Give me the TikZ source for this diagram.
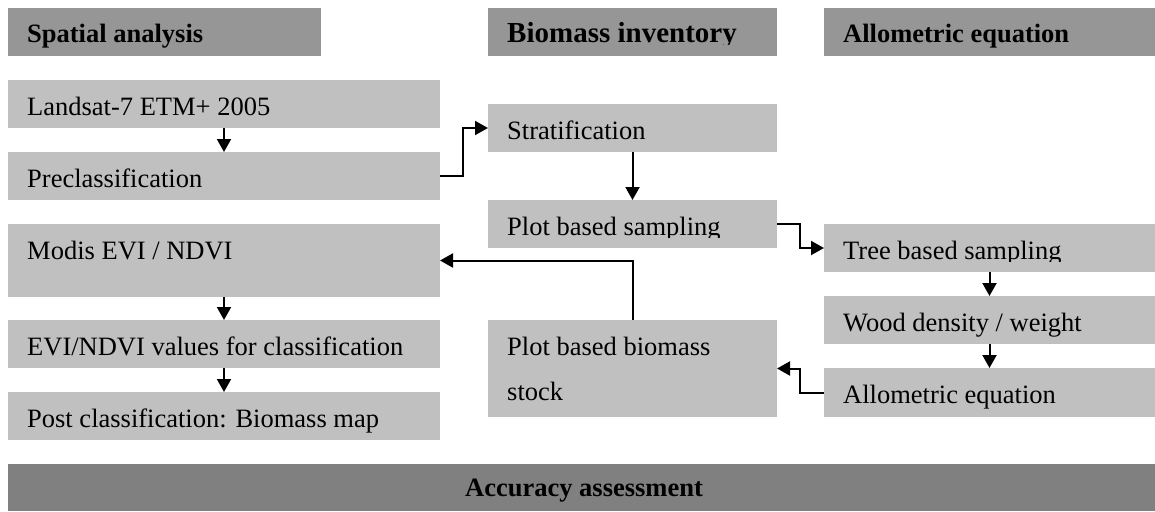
\documentclass[tikz,border=0pt]{standalone}
\usepackage{fontspec}
\setmainfont{Liberation Serif}
\usetikzlibrary{arrows.meta}
\definecolor{hdr}{HTML}{969696}
\definecolor{lgt}{HTML}{C0C0C0}
\definecolor{acc}{HTML}{808080}
\tikzset{
  x=1pt, y=-1pt,
  box/.style={fill=lgt, draw=none, anchor=north west, inner sep=0pt, outer sep=0pt},
  hbox/.style={fill=hdr, draw=none, anchor=north west, inner sep=0pt, outer sep=0pt},
  txt/.style={anchor=base west, inner sep=0pt, font=\fontsize{26.5}{32}\selectfont},
  htxt/.style={anchor=base west, inner sep=0pt, font=\fontsize{26.5}{32}\selectfont\bfseries},
  arr/.style={line width=2pt, -{Triangle[length=13pt,width=14pt]}},
}
\begin{document}
\begin{tikzpicture}
\useasboundingbox (0,0) rectangle (1155,511);
% headers
\node[hbox, minimum width=313pt, minimum height=48pt] (hsp) at (8,8) {};
\node[hbox, minimum width=289pt, minimum height=48pt] (hbi) at (488,8) {};
\node[hbox, minimum width=331pt, minimum height=48pt] (hal) at (824,8) {};
\node[htxt] (thsp) at (27,43) {Spatial analysis};
\begin{scope}
\clip (488,8) rectangle (777,45);
\node[htxt, font=\fontsize{29}{34}\selectfont\bfseries] (thbi) at (507,43) {Biomass inventory};
\end{scope}
\node[htxt] (thal) at (843,43) {Allometric equation};
% left column
\node[box, minimum width=432pt, minimum height=48pt] (land) at (8,80) {};
\node[box, minimum width=432pt, minimum height=48pt] (pre) at (8,152) {};
\node[box, minimum width=432pt, minimum height=73pt] (modis) at (8,224) {};
\node[box, minimum width=432pt, minimum height=48pt] (evi) at (8,320) {};
\node[box, minimum width=432pt, minimum height=48pt] (post) at (8,392) {};
\node[txt] (tland) at (27,115) {Landsat-7 ETM+ 2005};
\node[txt] (tpre) at (27,187) {Preclassification};
\node[txt] (tmodis) at (27,259) {Modis EVI / NDVI};
\node[txt] (tevi) at (27,355) {EVI/NDVI values for classification};
\node[txt] (tpost) at (27,427) {Post classification: Biomass map};
% middle column
\node[box, minimum width=289pt, minimum height=48pt] (strat) at (488,104) {};
\node[box, minimum width=289pt, minimum height=48pt] (ps) at (488,200) {};
\node[box, minimum width=289pt, minimum height=97pt] (pb) at (488,320) {};
\node[txt] (tstrat) at (507,139) {Stratification};
\begin{scope}
\clip (488,200) rectangle (777,237.5);
\node[txt] (tps) at (507,235) {Plot based sampling};
\end{scope}
\node[txt] (tpb1) at (507,355) {Plot based biomass};
\node[txt] (tpb2) at (507,400) {stock};
% right column
\node[box, minimum width=331pt, minimum height=48pt] (tree) at (824,224) {};
\node[box, minimum width=331pt, minimum height=48pt] (wood) at (824,296) {};
\node[box, minimum width=331pt, minimum height=49pt] (allo) at (824,368) {};
\begin{scope}
\clip (824,224) rectangle (1155,261.5);
\node[txt] (ttree) at (843,259) {Tree based sampling};
\end{scope}
\node[txt] (twood) at (843,331) {Wood density / weight};
\node[txt] (tallo) at (843,403) {Allometric equation};
% accuracy
\node[fill=acc, draw=none, anchor=north west, inner sep=0pt, minimum width=1147pt, minimum height=47pt] (acc) at (8,464) {};
\node[anchor=base, inner sep=0pt, font=\fontsize{26.5}{32}\selectfont\bfseries] (tacc) at (584,496) {Accuracy assessment};
% connectors
\draw[arr] (land.south) -- (pre.north);
\draw[arr] (modis.south) -- (evi.north);
\draw[arr] (evi.south) -- (post.north);
\draw[arr] (strat.south) -- (ps.north);
\draw[arr] (tree.south) -- (wood.north);
\draw[arr] (wood.south) -- (allo.north);
\draw[arr] (pre.east) -- ++(23,0) |- (strat.west);
\draw[arr] (ps.east) -- ++(23,0) |- (tree.west);
\draw[arr] (pb.north) |- (modis.east);
\draw[arr] (allo.west) -- ++(-24,0) |- (pb.east);
\end{tikzpicture}
\end{document}
